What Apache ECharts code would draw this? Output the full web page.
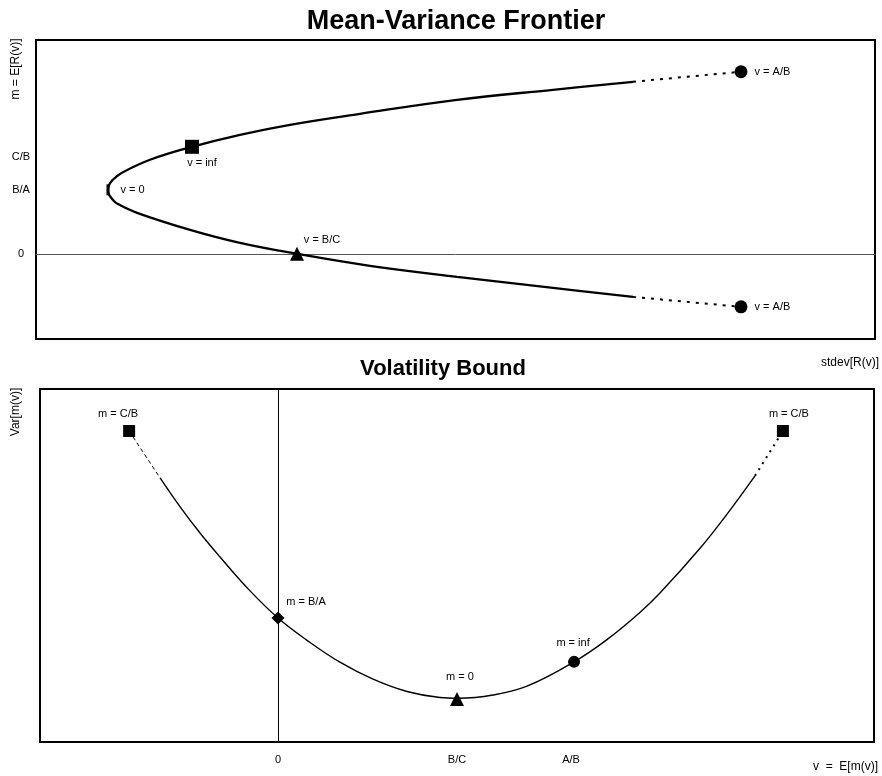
<!DOCTYPE html>
<html>
<head>
<meta charset="utf-8">
<script src="https://cdn.jsdelivr.net/npm/echarts@6/dist/echarts.min.js"></script>
<style>
html,body{margin:0;padding:0;background:#fff;}
#c{width:882px;height:776px;}
</style>
</head>
<body>
<div id="c"></div>
<script>
// ---------- Top panel: Mean-Variance Frontier (x = stdev, y = mean) ----------
var frontierSolid = [
  [71.16, 2.6875], [61.62, 2.5625], [50.18, 2.406], [38.62, 2.1875], [30.27, 2.016],
  [24.31, 1.859], [18.59, 1.672], [13.59, 1.469], [10.25, 1.266], [9.15, 1.156],
  [8.72, 1.078], [8.58, 1.0], [8.72, 0.922], [9.15, 0.844], [9.71, 0.781],
  [12.04, 0.641], [18.36, 0.375], [24.31, 0.172], [31.11, 0.0], [39.81, -0.1875],
  [50.18, -0.359], [61.62, -0.531], [71.16, -0.672]
];
var frontierUpperDotted = [[71.16, 2.6875], [84.03, 2.844]];
var frontierLowerDotted = [[71.16, -0.672], [84.03, -0.828]];
var topYTickValues = [0, 1, 1.516];
var topYTickLabels = ['0', 'B/A', 'C/B'];
var topPoints = {
  vInf: [18.59, 1.672],
  vZero: [8.58, 1.0],
  vBC: [31.11, 0.0],
  vAB_up: [84.03, 2.844],
  vAB_low: [84.03, -0.828]
};

// ---------- Bottom panel: Volatility Bound (x = v, y = Var) ----------
var boundSolid = [
  [-0.659, 74.8], [-0.547, 66.6], [-0.436, 59.2], [-0.324, 52.4], [-0.173, 43.7],
  [0.0, 35.1], [0.162, 28.8], [0.346, 22.6], [0.531, 17.8], [0.721, 14.3],
  [0.905, 12.6], [1.006, 12.4], [1.201, 13.3], [1.391, 15.8], [1.654, 22.7],
  [1.838, 29.0], [2.022, 36.7], [2.134, 42.2], [2.358, 54.9], [2.508, 64.5], [2.665, 75.4]
];
var boundLeftDashed = [[-0.832, 88.1], [-0.659, 74.8]];
var boundRightDotted = [[2.665, 75.4], [2.821, 88.1]];
var botXTickValues = [0, 1, 1.637];
var botXTickLabels = ['0', 'B/C', 'A/B'];
var botPoints = {
  mCB_left: [-0.832, 88.1],
  mCB_right: [2.821, 88.1],
  mBA: [0.0, 35.1],
  mZero: [1.0, 12.2],
  mInf: [1.654, 22.7]
};

var FONT = '"Liberation Sans", Arial, Helvetica, sans-serif';
function lookup(vals, labels) {
  return function (v) {
    var best = 0, d = Infinity;
    for (var i = 0; i < vals.length; i++) {
      var dd = Math.abs(vals[i] - v);
      if (dd < d) { d = dd; best = i; }
    }
    return labels[best];
  };
}
var lblStyle = { color: '#000', fontFamily: FONT, fontSize: 11 };

function pt(xi, yi, p, symbol, size, text, pos, offset) {
  return {
    type: 'scatter', xAxisIndex: xi, yAxisIndex: yi, symbol: symbol, symbolSize: size,
    itemStyle: { color: '#000', opacity: 1 }, silent: true, z: 5,
    label: Object.assign({ show: !!text, formatter: text, position: pos, offset: offset || [0, 0] }, lblStyle),
    data: [p]
  };
}

var chart = echarts.init(document.getElementById('c'), null, { renderer: 'canvas' });
var option = {
  animation: false,
  backgroundColor: '#fff',
  textStyle: { fontFamily: FONT },
  title: [
    { text: 'Mean-Variance Frontier', left: 451, top: 3, textAlign: 'center',
      textStyle: { fontFamily: FONT, fontWeight: 'bold', fontSize: 27, color: '#000' } },
    { text: 'Volatility Bound', left: 438, top: 353, textAlign: 'center',
      textStyle: { fontFamily: FONT, fontWeight: 'bold', fontSize: 22, color: '#000' } }
  ],
  graphic: [
    { type: 'text', x: 16, y: 69, rotation: Math.PI / 2,
      style: { text: 'm = E[R(v)]', fill: '#000', font: '12px ' + FONT, textAlign: 'center', textVerticalAlign: 'middle' } },
    { type: 'text', x: 879, y: 363,
      style: { text: 'stdev[R(v)]', fill: '#000', font: '12px ' + FONT, textAlign: 'right', textVerticalAlign: 'middle' } },
    { type: 'text', x: 16, y: 412, rotation: Math.PI / 2,
      style: { text: 'Var[m(v)]', fill: '#000', font: '12px ' + FONT, textAlign: 'center', textVerticalAlign: 'middle' } },
    { type: 'text', x: 878, y: 767,
      style: { text: 'v  =  E[m(v)]', fill: '#000', font: '12px ' + FONT, textAlign: 'right', textVerticalAlign: 'middle' } }
  ],
  grid: [
    { left: 36, top: 40, right: 7, height: 299, show: true, borderColor: '#000', borderWidth: 2, backgroundColor: 'transparent' },
    { left: 40, top: 389, right: 8, bottom: 34, show: true, borderColor: '#000', borderWidth: 2, backgroundColor: 'transparent' }
  ],
  xAxis: [
    { type: 'value', gridIndex: 0, min: 0, max: 100,
      axisLine: { show: true, onZero: true, lineStyle: { color: '#555', width: 1 } },
      axisTick: { show: false }, axisLabel: { show: false }, splitLine: { show: false } },
    { type: 'value', gridIndex: 1, min: -1.33, max: 3.33,
      axisLine: { show: false }, axisTick: { show: false }, splitLine: { show: false },
      axisLabel: { show: true, customValues: botXTickValues, formatter: lookup(botXTickValues, botXTickLabels),
        margin: 12, color: '#000', fontFamily: FONT, fontSize: 11 } }
  ],
  yAxis: [
    { type: 'value', gridIndex: 0, min: -1.33, max: 3.34,
      axisLine: { show: false }, axisTick: { show: false }, splitLine: { show: false },
      axisLabel: { show: true, customValues: topYTickValues, formatter: lookup(topYTickValues, topYTickLabels),
        margin: 15, align: 'center', color: '#000', fontFamily: FONT, fontSize: 11 } },
    { type: 'value', gridIndex: 1, min: 0, max: 100,
      axisLine: { show: true, onZero: true, lineStyle: { color: '#000', width: 1 } },
      axisTick: { show: false }, axisLabel: { show: false }, splitLine: { show: false } }
  ],
  series: [
    { type: 'line', xAxisIndex: 0, yAxisIndex: 0, data: frontierSolid, smooth: 0.4, showSymbol: false,
      lineStyle: { color: '#000', width: 2.3 }, silent: true, z: 3 },
    { type: 'line', xAxisIndex: 0, yAxisIndex: 0, data: frontierUpperDotted, showSymbol: false,
      lineStyle: { color: '#000', width: 2, type: [3, 6] }, silent: true },
    { type: 'line', xAxisIndex: 0, yAxisIndex: 0, data: frontierLowerDotted, showSymbol: false,
      lineStyle: { color: '#000', width: 2, type: [3, 6] }, silent: true },
    pt(0, 0, topPoints.vInf, 'rect', 14, 'v = inf', 'bottom', [10, -1]),
    pt(0, 0, topPoints.vZero, 'rect', [3, 11], 'v = 0', 'right', [6, 0]),
    pt(0, 0, topPoints.vBC, 'triangle', 14, 'v = B/C', 'top', [25, 4]),
    pt(0, 0, topPoints.vAB_up, 'circle', 13, 'v = A/B', 'right', [2, 0]),
    pt(0, 0, topPoints.vAB_low, 'circle', 13, 'v = A/B', 'right', [2, 0]),

    { type: 'line', xAxisIndex: 1, yAxisIndex: 1, data: boundSolid, smooth: 0.4, showSymbol: false,
      lineStyle: { color: '#000', width: 1.4 }, silent: true, z: 3 },
    { type: 'line', xAxisIndex: 1, yAxisIndex: 1, data: boundLeftDashed, showSymbol: false,
      lineStyle: { color: '#000', width: 1, type: [4, 3] }, silent: true },
    { type: 'line', xAxisIndex: 1, yAxisIndex: 1, data: boundRightDotted, showSymbol: false,
      lineStyle: { color: '#000', width: 2, type: [2, 5] }, silent: true },
    pt(1, 1, botPoints.mCB_left, 'rect', 12, 'm = C/B', 'top', [-11, -1]),
    pt(1, 1, botPoints.mCB_right, 'rect', 12, 'm = C/B', 'top', [6, -1]),
    pt(1, 1, botPoints.mBA, 'diamond', 13, 'm = B/A', 'top', [28, 1]),
    pt(1, 1, botPoints.mZero, 'triangle', 14, 'm = 0', 'top', [3, -4]),
    pt(1, 1, botPoints.mInf, 'circle', 12, 'm = inf', 'top', [-1, -2])
  ]
};
chart.setOption(option);
</script>
</body>
</html>
